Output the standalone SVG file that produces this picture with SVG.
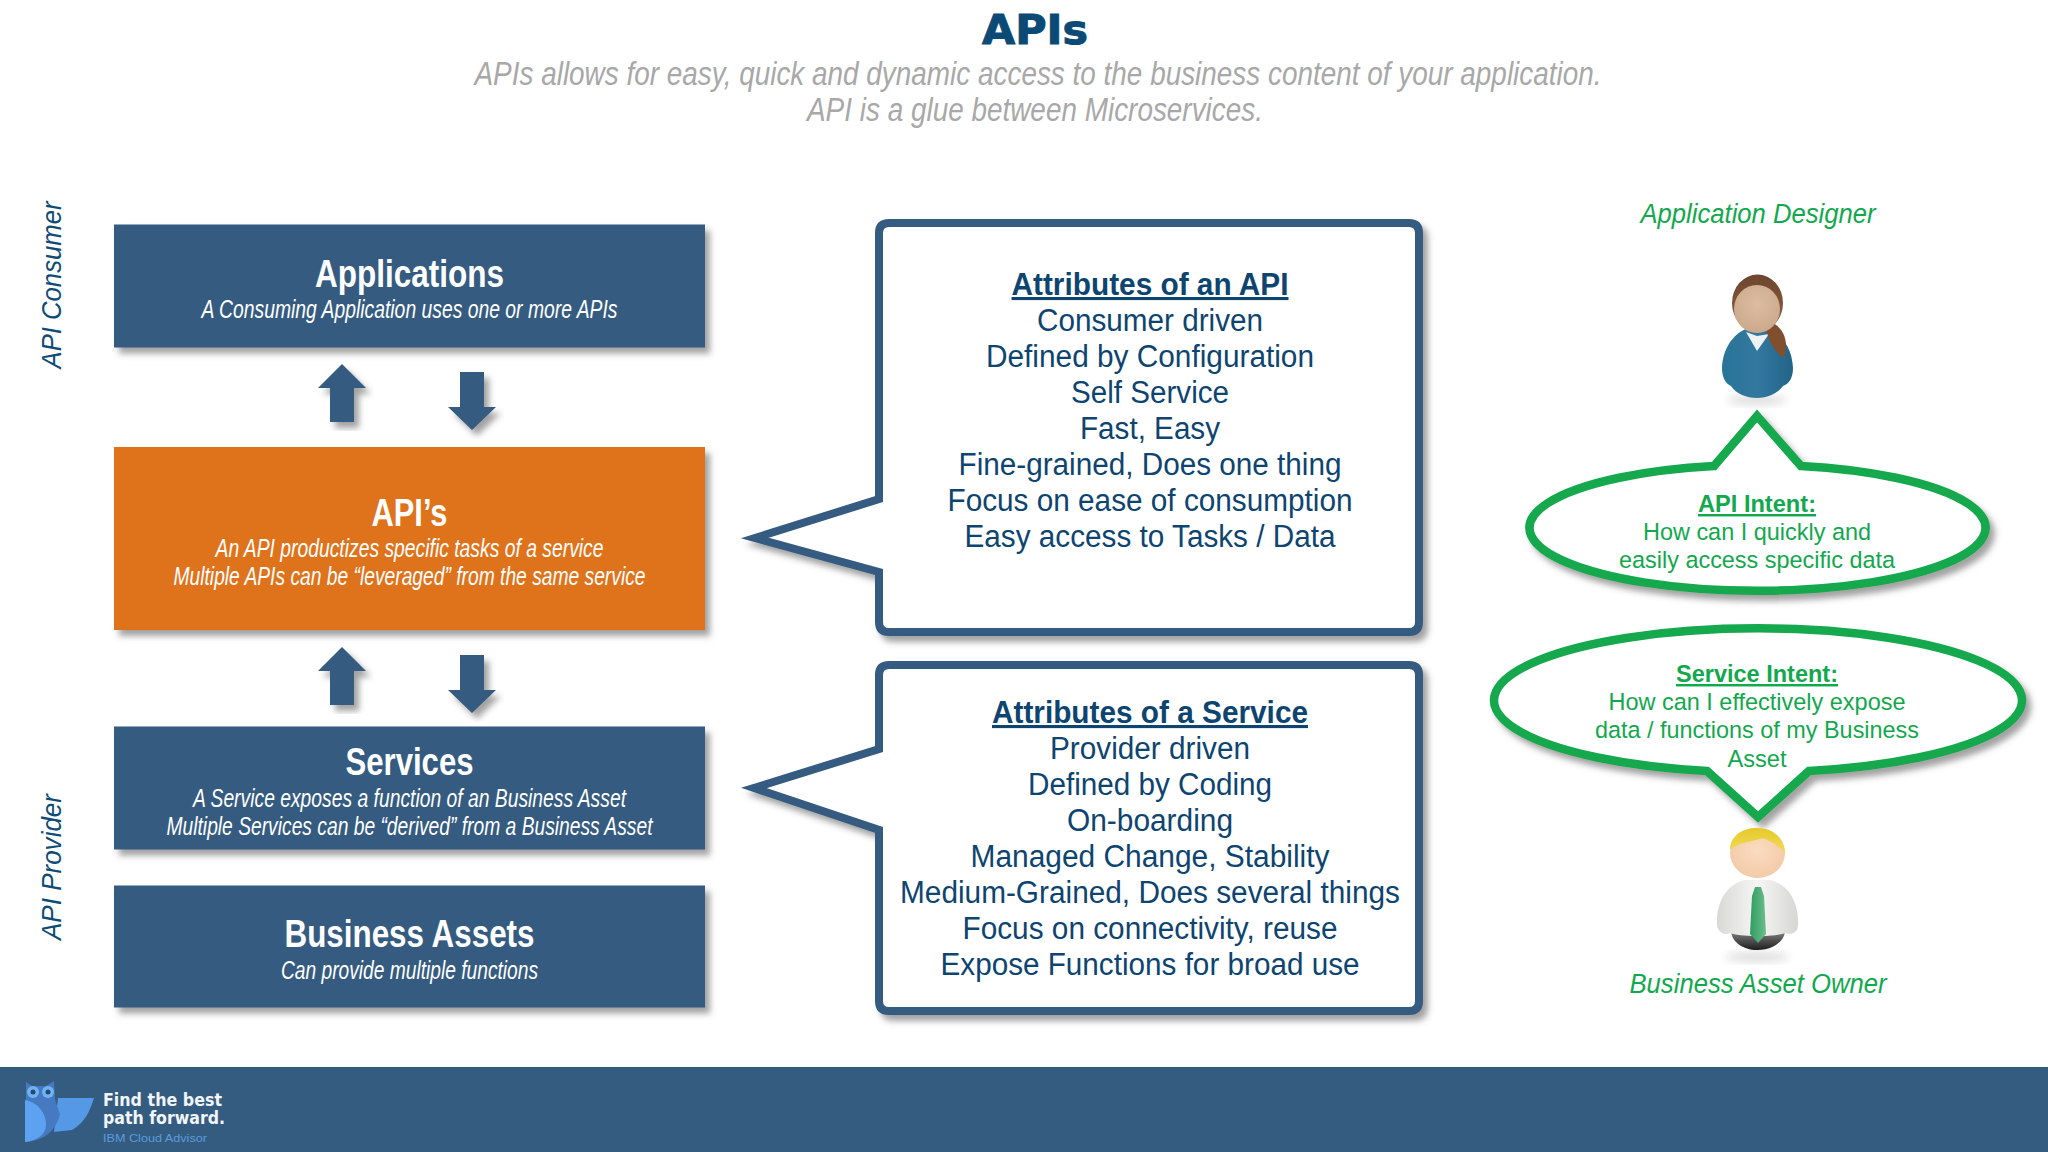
<svg xmlns="http://www.w3.org/2000/svg" width="2048" height="1152" viewBox="0 0 2048 1152">
<defs>
<filter id="sh" x="-10%" y="-10%" width="125%" height="125%"><feDropShadow dx="5" dy="6" stdDeviation="3" flood-color="#555" flood-opacity="0.55"/></filter>
<filter id="soft" x="-30%" y="-30%" width="160%" height="160%"><feGaussianBlur stdDeviation="4"/></filter>
<filter id="edge" x="-5%" y="-5%" width="110%" height="110%"><feGaussianBlur stdDeviation="0.7"/></filter>
<radialGradient id="skinF" cx="0.5" cy="0.4" r="0.7"><stop offset="0" stop-color="#dcbda2"/><stop offset="1" stop-color="#c9a588"/></radialGradient>
<radialGradient id="skinM" cx="0.5" cy="0.45" r="0.7"><stop offset="0" stop-color="#fbdcc0"/><stop offset="1" stop-color="#f0c6a2"/></radialGradient>
<linearGradient id="sweater" x1="0" y1="0" x2="1" y2="0"><stop offset="0" stop-color="#2a7398"/><stop offset="0.5" stop-color="#33789f"/><stop offset="1" stop-color="#226488"/></linearGradient>
<linearGradient id="hairF" x1="0" y1="0" x2="0" y2="1"><stop offset="0" stop-color="#6e452d"/><stop offset="1" stop-color="#8a6242"/></linearGradient>
<linearGradient id="hairM" x1="0" y1="0" x2="0" y2="1"><stop offset="0" stop-color="#e5c92a"/><stop offset="1" stop-color="#f2dc5c"/></linearGradient>
<linearGradient id="shirt" x1="0" y1="0" x2="1" y2="0"><stop offset="0" stop-color="#d8d8d6"/><stop offset="0.5" stop-color="#f6f6f4"/><stop offset="1" stop-color="#d6d6d4"/></linearGradient>
<linearGradient id="pants" x1="0" y1="0" x2="0" y2="1"><stop offset="0" stop-color="#888"/><stop offset="1" stop-color="#1d1d1d"/></linearGradient>
<linearGradient id="tie" x1="0" y1="0" x2="1" y2="0"><stop offset="0" stop-color="#2f9e5f"/><stop offset="1" stop-color="#6cbd8c"/></linearGradient>
</defs>
<style>
text{font-family:"Liberation Sans",Arial,sans-serif}
.box{filter:url(#sh)}
.blue{fill:#345b80}
.t{fill:#fff;font-weight:bold;font-size:39px;text-anchor:middle}
.s{fill:#fff;font-style:italic;font-size:25px;text-anchor:middle}
.arrow{fill:#345b80;filter:url(#sh)}
.callout{fill:#fff;stroke:#345b80;stroke-width:8;filter:url(#sh)}
.ca{fill:#0d4470;font-size:31px;text-anchor:middle}
.ct{font-weight:bold;text-decoration:underline}
.bubble{fill:#fff;stroke:#12a84e;stroke-width:8.5;filter:url(#sh)}
.g{fill:#12a84e;font-size:24.5px;text-anchor:middle}
.gt{font-weight:bold;text-decoration:underline}
.gl{fill:#12a84e;font-size:27px;font-style:italic;text-anchor:middle}
.side{fill:#0f4c75;font-size:27px;font-style:italic;text-anchor:middle}
</style>
<rect width="2048" height="1152" fill="#fff"/>

<g id="title">
<text x="1035" y="44" fill="#0b4a75" stroke="#0b4a75" stroke-width="1" style="font-family:'DejaVu Sans',sans-serif;font-weight:bold;font-size:40px;text-anchor:middle" textLength="106" lengthAdjust="spacingAndGlyphs">APIs</text>
<text x="1038" y="84.5" fill="#a8a8a8" style="font-size:34px;font-style:italic;text-anchor:middle" textLength="1127" lengthAdjust="spacingAndGlyphs">APIs allows for easy, quick and dynamic access to the business content of your application.</text>
<text x="1035" y="120.5" fill="#a8a8a8" style="font-size:34px;font-style:italic;text-anchor:middle" textLength="456" lengthAdjust="spacingAndGlyphs">API is a glue between Microservices.</text>
</g>

<g id="side-labels">
<text class="side" transform="translate(61 285) rotate(-90)" textLength="167" lengthAdjust="spacingAndGlyphs">API Consumer</text>
<text class="side" transform="translate(61 867) rotate(-90)" textLength="146" lengthAdjust="spacingAndGlyphs">API Provider</text>
</g>

<g id="applications">
<rect class="box blue" x="114" y="224.5" width="591" height="123"/>
<text class="t" x="409.5" y="287" textLength="189" lengthAdjust="spacingAndGlyphs">Applications</text>
<text class="s" x="409.5" y="318" textLength="416" lengthAdjust="spacingAndGlyphs">A Consuming Application uses one or more APIs</text>
</g>
<g id="apis">
<rect class="box" fill="#df731b" x="114" y="447" width="591" height="183"/>
<text class="t" x="409.5" y="525.5" textLength="76" lengthAdjust="spacingAndGlyphs">API’s</text>
<text class="s" x="409.5" y="557" textLength="388" lengthAdjust="spacingAndGlyphs">An API productizes specific tasks of a service</text>
<text class="s" x="409.5" y="585" textLength="472" lengthAdjust="spacingAndGlyphs">Multiple APIs can be “leveraged” from the same service</text>
</g>
<g id="services">
<rect class="box blue" x="114" y="726.5" width="591" height="123"/>
<text class="t" x="409.5" y="775" textLength="128" lengthAdjust="spacingAndGlyphs">Services</text>
<text class="s" x="409.5" y="807" textLength="433" lengthAdjust="spacingAndGlyphs">A Service exposes a function of an Business Asset</text>
<text class="s" x="409.5" y="835" textLength="486" lengthAdjust="spacingAndGlyphs">Multiple Services can be “derived” from a Business Asset</text>
</g>
<g id="business-assets">
<rect class="box blue" x="114" y="885.5" width="591" height="122"/>
<text class="t" x="409.5" y="947" textLength="250" lengthAdjust="spacingAndGlyphs">Business Assets</text>
<text class="s" x="409.5" y="979" textLength="257" lengthAdjust="spacingAndGlyphs">Can provide multiple functions</text>
</g>

<g id="connectors">
<path class="arrow" d="M342 364L366 388H354V422H330V388H318Z"/>
<path class="arrow" d="M472 430L448 407H460V372H484V407H496Z"/>
<path class="arrow" d="M342 647L366 671H354V705H330V671H318Z"/>
<path class="arrow" d="M472 713L448 690H460V655H484V690H496Z"/>
</g>

<g id="attributes-api">
<path class="callout" d="M889 223H1409Q1419 223 1419 233V622Q1419 632 1409 632H889Q879 632 879 622V572L755 538L879 499V233Q879 223 889 223Z"/>
<text class="ca ct" x="1150" y="295" textLength="277" lengthAdjust="spacingAndGlyphs">Attributes of an API</text>
<text class="ca" x="1150" y="331" textLength="226" lengthAdjust="spacingAndGlyphs">Consumer driven</text>
<text class="ca" x="1150" y="367" textLength="328" lengthAdjust="spacingAndGlyphs">Defined by Configuration</text>
<text class="ca" x="1150" y="403" textLength="158" lengthAdjust="spacingAndGlyphs">Self Service</text>
<text class="ca" x="1150" y="439" textLength="140" lengthAdjust="spacingAndGlyphs">Fast, Easy</text>
<text class="ca" x="1150" y="475" textLength="383" lengthAdjust="spacingAndGlyphs">Fine-grained, Does one thing</text>
<text class="ca" x="1150" y="511" textLength="405" lengthAdjust="spacingAndGlyphs">Focus on ease of consumption</text>
<text class="ca" x="1150" y="547" textLength="371" lengthAdjust="spacingAndGlyphs">Easy access to Tasks / Data</text>
</g>
<g id="attributes-service">
<path class="callout" d="M889 665H1409Q1419 665 1419 675V1001Q1419 1011 1409 1011H889Q879 1011 879 1001V830L754 788L879 749V675Q879 665 889 665Z"/>
<text class="ca ct" x="1150" y="723" textLength="316" lengthAdjust="spacingAndGlyphs">Attributes of a Service</text>
<text class="ca" x="1150" y="759" textLength="200" lengthAdjust="spacingAndGlyphs">Provider driven</text>
<text class="ca" x="1150" y="795" textLength="244" lengthAdjust="spacingAndGlyphs">Defined by Coding</text>
<text class="ca" x="1150" y="831" textLength="166" lengthAdjust="spacingAndGlyphs">On-boarding</text>
<text class="ca" x="1150" y="867" textLength="359" lengthAdjust="spacingAndGlyphs">Managed Change, Stability</text>
<text class="ca" x="1150" y="903" textLength="500" lengthAdjust="spacingAndGlyphs">Medium-Grained, Does several things</text>
<text class="ca" x="1150" y="939" textLength="375" lengthAdjust="spacingAndGlyphs">Focus on connectivity, reuse</text>
<text class="ca" x="1150" y="975" textLength="419" lengthAdjust="spacingAndGlyphs">Expose Functions for broad use</text>
</g>

<g id="application-designer">
<text class="gl" x="1758" y="223" textLength="235" lengthAdjust="spacingAndGlyphs">Application Designer</text>
<ellipse cx="1757" cy="400" rx="30" ry="5" fill="#ddd" filter="url(#soft)"/>
<g filter="url(#edge)">
<path d="M1757 326C1737 328 1723 345 1722 368C1722 378 1726 384 1731 386C1736 394 1747 398 1757 398C1767 398 1777 394 1783 386C1789 384 1793 378 1793 368C1792 345 1778 328 1757 326Z" fill="url(#sweater)"/>
<path d="M1746 332L1757 351L1769 334L1757 336Z" fill="#eef2f2"/>
<path d="M1768 322C1782 324 1790 340 1784 358C1774 352 1768 340 1766 328Z" fill="#80502f"/>
<ellipse cx="1757.5" cy="303" rx="25.5" ry="28.5" fill="url(#hairF)"/>
<ellipse cx="1757" cy="309" rx="23" ry="24" fill="url(#skinF)"/>
</g>
</g>
<g id="api-intent">
<path class="bubble" d="M1714 466A228 63 0 1 0 1801 466L1757 416Z"/>
<text class="g gt" x="1757" y="512" textLength="118" lengthAdjust="spacingAndGlyphs">API Intent:</text>
<text class="g" x="1757" y="540" textLength="228" lengthAdjust="spacingAndGlyphs">How can I quickly and</text>
<text class="g" x="1757" y="568" textLength="276" lengthAdjust="spacingAndGlyphs">easily access specific data</text>
</g>
<g id="service-intent">
<path class="bubble" d="M1707 771A264 72 0 1 1 1809 771L1758 817Z"/>
<text class="g gt" x="1757" y="682" textLength="162" lengthAdjust="spacingAndGlyphs">Service Intent:</text>
<text class="g" x="1757" y="710" textLength="297" lengthAdjust="spacingAndGlyphs">How can I effectively expose</text>
<text class="g" x="1757" y="738" textLength="324" lengthAdjust="spacingAndGlyphs">data / functions of my Business</text>
<text class="g" x="1757" y="767" textLength="59" lengthAdjust="spacingAndGlyphs">Asset</text>
</g>
<g id="business-asset-owner">
<ellipse cx="1757" cy="957" rx="32" ry="5" fill="#ddd" filter="url(#soft)"/>
<g filter="url(#edge)">
<path d="M1731 930H1785C1785 942 1772 950 1757 950C1743 950 1731 942 1731 930Z" fill="url(#pants)"/>
<path d="M1745 880C1728 884 1716 900 1717 925C1718 932 1724 936 1730 933C1738 937 1776 937 1785 933C1792 936 1798 932 1798 925C1799 900 1787 884 1770 880Z" fill="url(#shirt)"/>
<path d="M1755 887H1761L1764 896L1766 934L1758 943L1750 934L1752 896Z" fill="url(#tie)"/>
<ellipse cx="1757.5" cy="853" rx="27.5" ry="25" fill="url(#skinM)"/>
<path d="M1730 850C1730 836 1742 828 1757 828C1773 828 1785 838 1785 854C1780 846 1772 842 1763 838C1752 842 1738 842 1730 850Z" fill="url(#hairM)"/>
</g>
<text class="gl" x="1758" y="993" textLength="257" lengthAdjust="spacingAndGlyphs">Business Asset Owner</text>
</g>

<g id="footer">
<rect x="0" y="1067" width="2048" height="85" fill="#345b80"/>
<g filter="url(#edge)">
<path d="M58 1098L94 1098C90 1110 86 1122 72 1130L54 1132Z" fill="#5498e6"/>
<path d="M26 1082L32 1086H46L54 1081L55 1100L60 1114C56 1130 46 1140 26 1142Z" fill="#4579c0"/>
<path d="M25 1100C40 1103 46 1115 46 1125C46 1135 36 1141 25 1142Z" fill="#5ba2f0"/>
<circle cx="33" cy="1092" r="6" fill="#6fb3f5"/><circle cx="48" cy="1092" r="6" fill="#6fb3f5"/>
<circle cx="33" cy="1092" r="2.5" fill="#27496e"/><circle cx="48" cy="1092" r="2.5" fill="#27496e"/>
</g>
<text x="103" y="1106" fill="#f2f5f8" style="font-family:'DejaVu Sans',sans-serif;font-weight:bold;font-size:17px" textLength="119" lengthAdjust="spacingAndGlyphs">Find the best</text>
<text x="103" y="1124" fill="#f2f5f8" style="font-family:'DejaVu Sans',sans-serif;font-weight:bold;font-size:17px" textLength="122" lengthAdjust="spacingAndGlyphs">path forward.</text>
<text x="103" y="1142" fill="#5a9bdc" style="font-size:11px" textLength="104" lengthAdjust="spacingAndGlyphs">IBM Cloud Advisor</text>
</g>
</svg>
